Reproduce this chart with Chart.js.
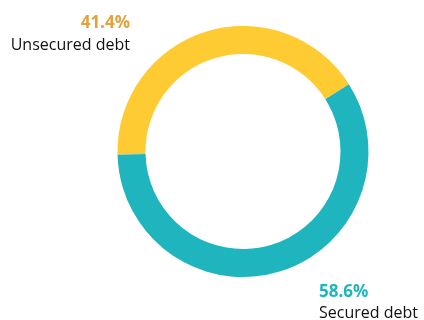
<!DOCTYPE html>
<html><head><meta charset="utf-8">
<script src="https://cdn.jsdelivr.net/npm/chart.js@4/dist/chart.umd.min.js"></script>
<style>html,body{margin:0;padding:0;background:#fff}#wrap{position:relative;width:424px;height:320px}</style>
</head><body><div id="wrap"><canvas id="c" width="424" height="320"></canvas></div>
<script>
const categories = ["Unsecured debt", "Secured debt"];
const shares = [41.4, 58.6];
const segColors = ["#FFCB33", "#1EB5BE"];
const labelColors = ["#E2A23A", "#1EB5BE"];

const labelPlugin = {
  id: 'labels',
  afterDraw(chart) {
    const ctx = chart.ctx;
    ctx.save();
    ctx.textBaseline = 'alphabetic';
    ctx.textAlign = 'right';
    ctx.font = 'bold 17px "Open Sans", sans-serif';
    ctx.fillStyle = labelColors[0];
    ctx.fillText(shares[0].toFixed(1) + '%', 130, 28);
    ctx.font = '16px "Open Sans", sans-serif';
    ctx.fillStyle = '#111';
    ctx.fillText(categories[0], 130, 50);
    ctx.textAlign = 'left';
    ctx.font = 'bold 17px "Open Sans", sans-serif';
    ctx.fillStyle = labelColors[1];
    ctx.fillText(shares[1].toFixed(1) + '%', 319, 297);
    ctx.font = '16px "Open Sans", sans-serif';
    ctx.fillStyle = '#111';
    ctx.fillText(categories[1], 319, 318);
    ctx.restore();
  }
};

new Chart(document.getElementById('c'), {
  type: 'doughnut',
  data: {
    labels: categories,
    datasets: [{ data: shares, backgroundColor: segColors, borderWidth: 0, hoverOffset: 0 }]
  },
  options: {
    responsive: false,
    animation: false,
    rotation: -91.5,
    cutout: '77.7%',
    layout: { padding: { left: 117.5, right: 55.5, top: 26, bottom: 43 } },
    plugins: { legend: { display: false }, tooltip: { enabled: false } }
  },
  plugins: [labelPlugin]
});
</script></body></html>
